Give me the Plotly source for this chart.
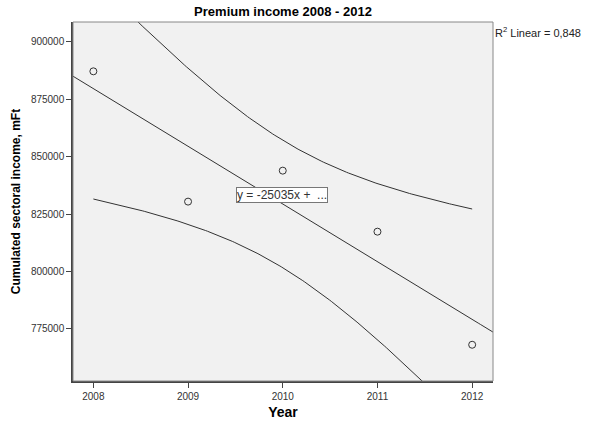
import numpy as np
import plotly.graph_objects as go

years = [2008, 2009, 2010, 2011, 2012]
income = [887200, 830400, 843900, 817300, 768000]
y_ticks = [775000, 800000, 825000, 850000, 875000, 900000]
title_text = "Premium income 2008 - 2012"
r2_text = "R<sup>2</sup> Linear = 0,848"
eq_text = "y = -25035x +  ..."

x = np.array(years, float)
y = np.array(income, float)
n = len(x)
b, a = np.polyfit(x, y, 1)
res = y - (a + b * x)
s = np.sqrt((res ** 2).sum() / (n - 2))
t = 3.182446
sxx = ((x - x.mean()) ** 2).sum()

xr = [2007.785, 2012.22]
xf = np.linspace(xr[0], xr[1], 200)
xc = np.linspace(2008, 2012, 200)
se = s * np.sqrt(1 / n + (xc - x.mean()) ** 2 / sxx)
fit_c = a + b * xc

line = dict(color="#333333", width=1)
fig = go.Figure()
fig.add_trace(go.Scatter(x=xf, y=a + b * xf, mode="lines", line=line, hoverinfo="skip"))
fig.add_trace(go.Scatter(x=xc, y=fit_c + t * se, mode="lines", line=line, hoverinfo="skip"))
fig.add_trace(go.Scatter(x=xc, y=fit_c - t * se, mode="lines", line=line, hoverinfo="skip"))
fig.add_trace(go.Scatter(x=years, y=income, mode="markers",
                         marker=dict(symbol="circle-open", size=7, color="#333333", line=dict(width=1))))

font = "Arial, Liberation Sans, sans-serif"
fig.update_layout(
    width=595, height=421,
    margin=dict(l=73, r=102, t=22, b=40),
    paper_bgcolor="white", plot_bgcolor="#f1f1f1",
    showlegend=False,
    font=dict(family=font, color="#222222"),
    title=dict(text="<b>" + title_text + "</b>", x=(73 + 493) / 2 / 595, xanchor="center",
               y=1 - 11 / 421, yanchor="middle", font=dict(size=13, color="#000000")),
    xaxis=dict(range=xr, tickvals=years, ticktext=[str(v) for v in years], automargin=False,
               showgrid=False, zeroline=False, showline=True, linecolor="#444444", linewidth=1.5,
               ticks="outside", ticklen=5, tickcolor="#444444",
               tickfont=dict(size=10, color="#333333"),
               title=dict(text="<b>Year</b>", font=dict(size=14, color="#000000"), standoff=6)),
    yaxis=dict(range=[752200, 908700], tickvals=y_ticks, ticktext=[str(v) for v in y_ticks],
               automargin=False,
               showgrid=False, zeroline=False, showline=True, linecolor="#444444", linewidth=1.5,
               ticks="outside", ticklen=5, tickcolor="#444444",
               tickfont=dict(size=10, color="#333333"),
               title=dict(text="<b>Cumulated sectoral income, mFt</b>", font=dict(size=12, color="#000000"),
                          standoff=8)),
)
fig.add_shape(type="rect", xref="paper", yref="paper", x0=0, x1=1, y0=0, y1=1,
              line=dict(color="#888888", width=1), layer="above")
fig.add_annotation(x=2009.99, y=833400, xref="x", yref="y", text=eq_text, showarrow=False,
                   font=dict(size=12, color="#333333", family=font), bgcolor="white",
                   bordercolor="#777777", borderwidth=1, borderpad=0)
fig.add_annotation(x=1.0, y=1 - 10 / 359, xref="paper", yref="paper", xanchor="left", yanchor="middle",
                   text=r2_text, showarrow=False, font=dict(size=11, color="#222222", family=font))
fig.write_html("out.html", config={"displayModeBar": False},
               post_script="document.body.style.margin='0';")
